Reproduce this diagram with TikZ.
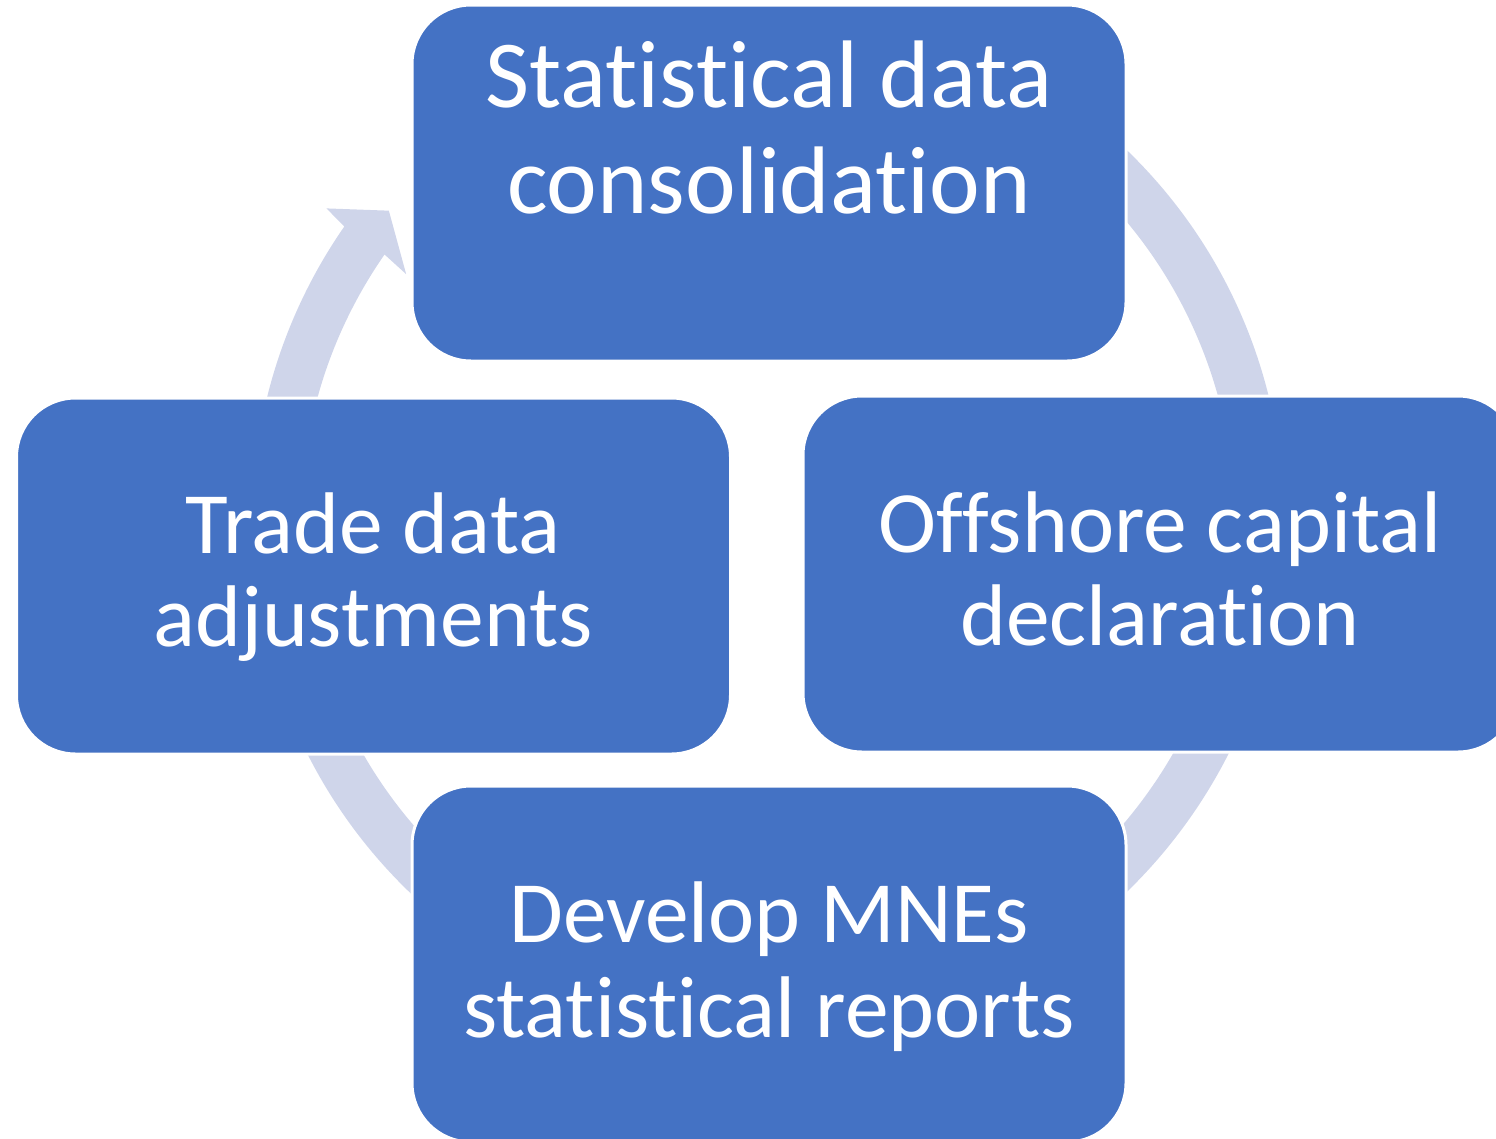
\documentclass[tikz,border=0pt]{standalone}
\usepackage{fontspec}
\setmainfont{Carlito}[Ligatures={NoCommon}]
\usetikzlibrary{calc}
\definecolor{boxblue}{HTML}{4472C4}
\definecolor{ringgray}{HTML}{CFD5EA}
\begin{document}
\begin{tikzpicture}[x=1pt,y=1pt,
  stagebox/.style={draw=white, line width=3pt, fill=boxblue, rounded corners=59pt,
    minimum width=714pt, minimum height=356pt, inner sep=0pt, outer sep=0pt},
  bigtext/.style={text=white, font=\fontsize{96}{105}\selectfont, anchor=base, inner sep=0pt},
  stagetext/.style={text=white, font=\fontsize{87.5}{94}\selectfont, anchor=base, inner sep=0pt}]
\useasboundingbox (0,0) rectangle (1496,-1138);
\clip (0,0) rectangle (1496,-1138);

% circular arrow running clockwise behind the four stages
\coordinate (C) at (768,-521);
\fill[ringgray]
  ($(C)+(100:516)$) arc[start angle=100, end angle=-214.8, radius=516]
  -- ($(C)+(144.7:541)$) -- ($(C)+(140.7:490)$) -- ($(C)+(145.7:438)$)
  -- ($(C)+(145.2:467)$) arc[start angle=145.2, end angle=460, radius=467]
  -- cycle;

% stages
\node[stagebox] (top)    at (769,-183)   {};
\node[stagebox] (left)   at (373.5,-576) {};
\node[stagebox] (right)  at (1160,-574)  {};
\node[stagebox] (bottom) at (769,-964)   {};

% labels
\node[bigtext] (topA) at (769,-107) {Statistical data};
\node[bigtext] (topB) at (769,-213) {consolidation};
\node[stagetext] (leftA) at (373,-553) {Trade data};
\node[stagetext] (leftB) at (373,-646) {adjustments};
\node[stagetext] (rightA) at (1160,-552) {Offshore capital};
\node[stagetext] (rightB) at (1160,-645) {declaration};
\node[stagetext] (bottomA) at (769,-942) {Develop MNEs};
\node[stagetext] (bottomB) at (769,-1037) {statistical reports};
\end{tikzpicture}
\end{document}
